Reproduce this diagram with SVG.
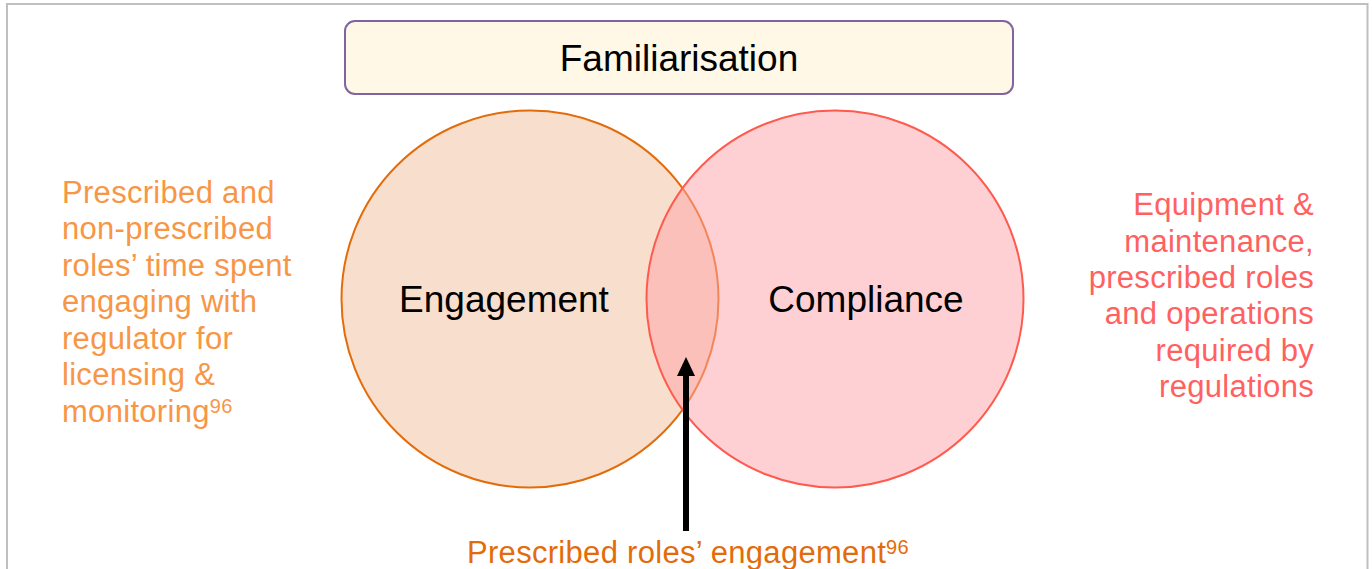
<svg xmlns="http://www.w3.org/2000/svg" width="1372" height="569" viewBox="0 0 1372 569">
<defs>
<style>
text{font-family:"Liberation Sans",Arial,sans-serif;}
.big{font-size:37px;fill:#000;}
.side{font-size:31px;letter-spacing:0.3px;}
.sup{font-size:20px;}
.lt{fill:#F79646;}
.rt{fill:#FF6161;text-anchor:end;}
.bt{fill:#E36C0A;}
</style>
<marker id="ah" markerUnits="userSpaceOnUse" markerWidth="20" markerHeight="20" viewBox="0 0 20 20" refX="1" refY="10" orient="auto">
<path d="M1,1 L20,10 L1,19 Z" fill="#000"/>
</marker>
</defs>
<rect width="1372" height="569" fill="#fff"/>
<path d="M7,569 V4 H1367.5 V569" fill="none" stroke="#BFBFBF" stroke-width="2"/>
<g id="familiarisation">
<rect x="345" y="21" width="668" height="73" rx="10" fill="#FFF8E6" stroke="#8064A2" stroke-width="2"/>
<text class="big" x="679" y="71" text-anchor="middle">Familiarisation</text>
</g>
<g id="engagement">
<circle cx="530" cy="299" r="188.5" fill="#F8DECD" stroke="#E36C0A" stroke-width="2"/>
<text class="big" x="504" y="312" text-anchor="middle">Engagement</text>
</g>
<g id="compliance">
<circle cx="835" cy="299" r="188.5" fill="rgb(255,161,167)" fill-opacity="0.5" stroke="#FF5A4E" stroke-width="2"/>
<text class="big" x="866" y="312" text-anchor="middle">Compliance</text>
</g>
<g id="left-note">
<text class="side lt" x="62" y="202.5">Prescribed and</text>
<text class="side lt" x="62" y="239">non-prescribed</text>
<text class="side lt" x="62" y="275.5">roles’ time spent</text>
<text class="side lt" x="62" y="312">engaging with</text>
<text class="side lt" x="62" y="348.5">regulator for</text>
<text class="side lt" x="62" y="385">licensing &amp;</text>
<text class="side lt" x="62" y="421.5">monitoring<tspan class="sup" dy="-9">96</tspan></text>
</g>
<g id="right-note">
<text class="side rt" x="1314" y="215">Equipment &amp;</text>
<text class="side rt" x="1314" y="251.5">maintenance,</text>
<text class="side rt" x="1314" y="288">prescribed roles</text>
<text class="side rt" x="1314" y="324">and operations</text>
<text class="side rt" x="1314" y="360.5">required by</text>
<text class="side rt" x="1314" y="397">regulations</text>
</g>
<g id="overlap-label">
<text class="side bt" x="467" y="563">Prescribed roles’ engagement<tspan class="sup" dy="-9">96</tspan></text>
</g>
<g id="connectors">
<line x1="686" y1="531" x2="686" y2="376" stroke="#000" stroke-width="6" marker-end="url(#ah)"/>
</g>
</svg>
